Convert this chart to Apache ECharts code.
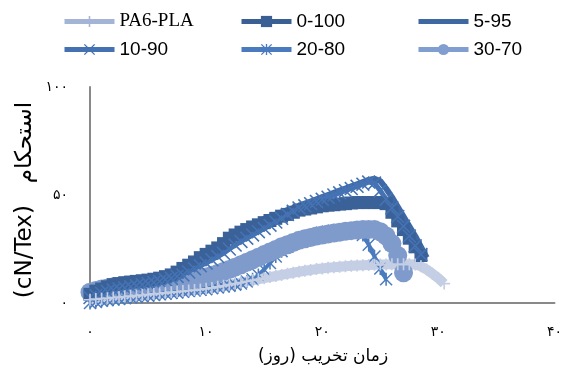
<!DOCTYPE html>
<html>
<head>
<meta charset="utf-8">
<title>chart</title>
<script src="https://cdn.jsdelivr.net/npm/echarts@6/dist/echarts.min.js"></script>
<style>
html,body{margin:0;padding:0;background:#fff;}
#chart1{width:565px;height:367px;}
</style>
</head>
<body>
<div id="chart1"></div>
<script>
// days (x) shared by all series
var days = [0,0.5,1,1.5,2,2.5,3,3.5,4,4.5,5,5.5,6,6.5,7,7.5,8,8.5,9,9.5,10,10.5,11,11.5,12,12.5,13,13.5,14,14.5,
            15,15.5,16,16.5,17,17.5,18,18.5,19,19.5,20,20.5,21,21.5,22,22.5,23,23.5,24,24.5,25,25.5,26,26.5,27,27.5,
            28,28.5,29,29.5,30,30.5,31];

var pa6pla = [1.5,1.8,2,2.2,2.5,2.7,3,3.2,3.5,3.7,4,4.2,4.5,4.7,5,5.2,5.5,5.8,6,6.3,6.6,7,7.5,8,8.5,9,9.5,10,10.5,11,
              11.5,12,12.5,13,13.5,14,14.5,14.9,15.3,15.7,16,16.3,16.6,16.8,17,17.2,17.4,17.5,17.6,17.7,17.8,17.8,17.9,17.9,17.9,17.9,
              17.8,17,15.5,13.5,11.5,9];
var s0_100 = [4,5.5,6.5,7.5,8.5,9,9.4,9.7,10,10.3,10.6,11,11.5,12.2,13,14.3,16,17.5,19,21,22.5,24,25.5,27.5,30,31.5,32.8,34,35.2,36.2,
              37.2,38.2,39.2,40.2,41,42,43,43.5,44,44.5,45,45.3,45.5,45.8,46,46.3,46.5,46.5,46.5,46.5,46.5,46,42,38,34,30,
              26,22];
var s5_95 = [3.5,4.5,5.5,6.5,7.5,8,8.5,9,9.5,10,10.5,11,11.5,12.3,13,14,15,16.5,18,20,22,24,26,28,30,31.5,33,34.5,36,37.5,
             39,40,41,42,43,44,45,46,47,48,49,50,51,52,53,54,55,56,57,57.5,56.5,53,49,44.5,40,35.5,
             31,26,21];
var s10_90 = [2.5,3.5,4.5,5.3,6,6.5,7,7.5,8,8.5,9,9.5,10,10.8,11.5,12.3,13,14.3,15.8,17.2,18.5,20,21.5,23,25,26.8,28.5,30,31.5,33,
              34.5,36,37.5,39.2,41,42.5,44,45,46,47,48,49,50,51,52,53,54,55,56,55.5,52,48,44,40,35.5,31,
              26.5,22.5];
var s20_80 = [0,0.5,1,1.3,1.6,1.9,2.2,2.5,2.8,3.1,3.4,3.7,4,4.3,4.6,4.9,5.2,5.5,5.8,6.1,6.4,6.8,7.2,7.6,8,8.5,9,10,11,13,
              15.5,18.5,21.5,24,26,27.5,29,30,31,31.8,32.5,33,33.5,33.8,34,34,33.5,31.5,27,21.5,16,11];
var s30_70 = [5,5.8,6.5,7,7.5,7.8,8,8.3,8.5,8.8,9,9.3,9.5,9.8,10,10.3,10.5,10.8,11,11.5,12,12.8,13.7,14.6,15.5,16.6,17.7,18.9,20,21.2,
              22.4,23.6,24.8,26,27,28,29,29.7,30.3,31,31.5,32,32.4,32.8,33.2,33.5,33.8,34,34,34,33,31,27.5,22,14];

var xTicks = ['۰','۱۰','۲۰','۳۰','۴۰'];
var yTicks = ['۰','۵۰','۱۰۰'];
var names = ['PA6-PLA','0-100','5-95','10-90','20-80','30-70'];

var plusPath = 'path://M4.3,0H5.7V4.3H10V5.7H5.7V10H4.3V5.7H0V4.3H4.3Z';
var crossPath = 'path://M0.8,0L5,4.2L9.2,0L10,0.8L5.8,5L10,9.2L9.2,10L5,5.8L0.8,10L0,9.2L4.2,5L0,0.8Z';
var starPath = crossPath + 'M4.4,0H5.6V10H4.4Z';

function pairs(vals){
	var out = [];
	for (var i = 0; i < vals.length; i++) {
		out.push([days[i], vals[i]]);
	}
	return out;
}

var chart1 = echarts.init(document.getElementById('chart1'));

/******legend: 3 columns x 2 rows*******/
var legendColors = ['#a3b4d7','#3a5f94','#3e68a2','#4371b1','#4a7bbf','#809ed0'];
var legends = [];
for (var i = 0; i < names.length; i++) {
	var item = {
		name: names[i],
		itemStyle: {color: legendColors[i]},
		lineStyle: {color: legendColors[i], width: 5}
	};
	if (i == 0) item.textStyle = {fontFamily: 'Liberation Serif', fontSize: 19};
	if (names[i] == '5-95') item.itemStyle.opacity = 0;
	legends.push({
		data: [item],
		left: 62 + (i % 3) * 177,
		top: 12 + Math.floor(i / 3) * 28,
		padding: 0,
		itemWidth: 50,
		itemHeight: 14,
		selectedMode: false,
		textStyle: {fontFamily: 'Liberation Sans', fontSize: 19, color: '#000'}
	});
}

var option1 = {
	animation: false,
	backgroundColor: '#fff',
	legend: legends,
	grid: {left: 90, right: 8, top: 87, bottom: 64},
	xAxis: {
		type: 'value', min: 0, max: 40, interval: 10,
		axisLine: {show: true, lineStyle: {color: '#898989', width: 2}},
		axisTick: {show: false},
		splitLine: {show: false},
		axisLabel: {
			margin: 22, fontSize: 14, color: '#000', fontFamily: 'DejaVu Sans',
			formatter: function(v){ return xTicks[Math.round(v / 10)]; }
		}
	},
	yAxis: {
		type: 'value', min: 0, max: 100, interval: 50,
		axisLine: {show: true, lineStyle: {color: '#898989', width: 2}},
		axisTick: {show: false},
		splitLine: {show: false},
		axisLabel: {
			margin: 22, fontSize: 14, color: '#000', fontFamily: 'DejaVu Sans',
			formatter: function(v){ return yTicks[Math.round(v / 50)]; }
		}
	},
	graphic: [
		{type: 'text', x: 25, y: 200, rotation: Math.PI / 2,
		 style: {text: '(cN/Tex)   استحکام', fill: '#000', font: '23px "DejaVu Sans"', align: 'center', verticalAlign: 'middle'}},
		{type: 'text', x: 323, y: 357,
		 style: {text: 'زمان تخریب (روز)', fill: '#000', font: '17px "DejaVu Sans"', align: 'center', verticalAlign: 'middle'}}
	],
	//draw order: lowest first
	series: [{
		name: '20-80', type: 'line', data: pairs(s20_80),
		symbol: starPath, symbolSize: 13, showAllSymbol: true,
		itemStyle: {color: '#4a7bbf'}, lineStyle: {color: '#4a7bbf', width: 4}
	},{
		name: '30-70', type: 'line', data: pairs(s30_70),
		symbol: 'circle', symbolSize: 19, showAllSymbol: true,
		itemStyle: {color: '#7f9bcc'}, lineStyle: {color: '#7f9bcc', width: 6}
	},{
		name: '0-100', type: 'line', data: pairs(s0_100),
		symbol: 'rect', symbolSize: 13, showAllSymbol: true,
		itemStyle: {color: '#3b6298'}, lineStyle: {color: '#3b6298', width: 5}
	},{
		name: '5-95', type: 'line', data: pairs(s5_95),
		symbol: 'none',
		itemStyle: {color: '#3e69a6'}, lineStyle: {color: '#3e69a6', width: 6}
	},{
		name: '10-90', type: 'line', data: pairs(s10_90),
		symbol: crossPath, symbolSize: 14, showAllSymbol: true,
		itemStyle: {color: '#4573b4'}, lineStyle: {color: '#4573b4', width: 5}
	},{
		name: 'PA6-PLA', type: 'line', data: pairs(pa6pla),
		symbol: plusPath, symbolSize: 12, showAllSymbol: true,
		itemStyle: {color: '#c4cee4'}, lineStyle: {color: '#c4cee4', width: 10}
	}]
};
chart1.setOption(option1);
</script>
</body>
</html>
